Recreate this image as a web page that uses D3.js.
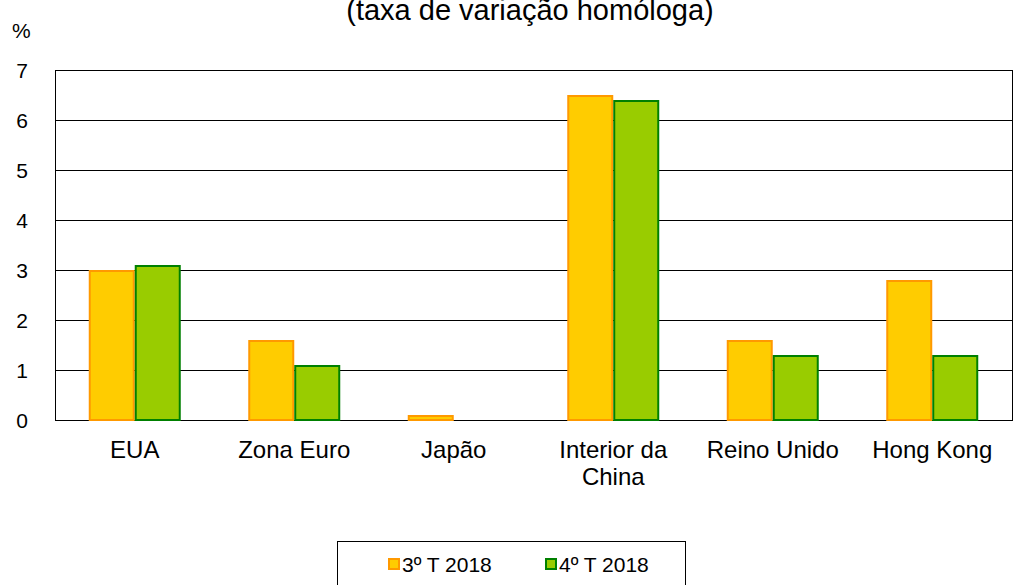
<!DOCTYPE html>
<html>
<head>
<meta charset="utf-8">
<script src="https://cdn.jsdelivr.net/npm/d3@7"></script>
<style>
  body { margin: 0; background: #fff; }
  text { font-family: "Liberation Sans", Arial, sans-serif; fill: #000; }
</style>
</head>
<body>
<svg id="canvas" width="1017" height="585"></svg>
<script>
// data
const categories = [["EUA"], ["Zona Euro"], ["Japão"], ["Interior da", "China"], ["Reino Unido"], ["Hong Kong"]];
const seriesNames = ["3º T 2018", "4º T 2018"];
const q3 = [3.0, 1.6, 0.1, 6.5, 1.6, 2.8];
const q4 = [3.1, 1.1, 0.0, 6.4, 1.3, 1.3];
const yTicks = [0, 1, 2, 3, 4, 5, 6, 7];

const fills = ["#ffcc00", "#99cc00"];
const strokes = ["#ff9900", "#008000"];

let svg = d3.select("#canvas");
let plotLeft = 55, plotRight = 1012, plotTop = 70, plotBottom = 420;

var x = d3.scaleBand()
    .domain(d3.range(categories.length))
    .range([plotLeft, plotRight]);

var y = d3.scaleLinear()
    .domain([0, 7])
    .range([plotBottom, plotTop]);

//title, its top is cut by the edge as in the original
svg.append("text")
    .attr("x", 530)
    .attr("y", 20)
    .attr("text-anchor", "middle")
    .style("font-size", "29px")
    .text("(taxa de variação homóloga)");

svg.append("text")
    .attr("x", 12)
    .attr("y", 38)
    .style("font-size", "21px")
    .text("%");

//gridlines
svg.append("g")
    .selectAll("line")
    .data(yTicks)
    .join("line")
    .attr("x1", plotLeft)
    .attr("x2", plotRight)
    .attr("y1", d => Math.round(y(d)) + 0.5)
    .attr("y2", d => Math.round(y(d)) + 0.5)
    .attr("stroke", "#000")
    .attr("stroke-width", 1);

//plot frame
svg.append("rect")
    .attr("x", plotLeft + 0.5)
    .attr("y", plotTop + 0.5)
    .attr("width", plotRight - plotLeft)
    .attr("height", plotBottom - plotTop)
    .attr("fill", "none")
    .attr("stroke", "#000");

//y tick labels
svg.append("g")
    .selectAll("text")
    .data(yTicks)
    .join("text")
    .attr("x", 28)
    .attr("y", d => y(d) + 8)
    .attr("text-anchor", "end")
    .style("font-size", "21px")
    .text(d => d);

//bars
const barW = 46;
const series = [q3, q4];
series.forEach((vals, s) => {
    svg.append("g")
        .selectAll("rect")
        .data(vals)
        .join("rect")
        .attr("x", (d, i) => x(i) + x.bandwidth() / 2 - barW + s * barW + 1)
        .attr("y", d => y(d) + 1)
        .attr("width", barW - 2)
        .attr("height", d => Math.max(0, y(0) - y(d) - 1))
        .attr("fill", fills[s])
        .attr("stroke", strokes[s])
        .attr("stroke-width", 2)
        .style("display", d => d > 0 ? null : "none");
});

//category labels
const labels = svg.append("g")
    .selectAll("text")
    .data(categories)
    .join("text")
    .attr("text-anchor", "middle")
    .style("font-size", "24px");
labels.each(function(lines, i) {
    d3.select(this).selectAll("tspan")
        .data(lines)
        .join("tspan")
        .attr("x", x(i) + x.bandwidth() / 2)
        .attr("y", (d, j) => 458 + j * 27)
        .text(d => d);
});

//legend
svg.append("rect")
    .attr("x", 337.5)
    .attr("y", 541.5)
    .attr("width", 348)
    .attr("height", 60)
    .attr("fill", "#fff")
    .attr("stroke", "#000");

const legend = svg.selectAll(".legend")
    .data(seriesNames)
    .enter().append("g")
    .attr("class", "legend")
    .attr("transform", (d, i) => "translate(" + (389 + i * 157) + ",0)");

legend.append("rect")
    .attr("x", 0)
    .attr("y", 559)
    .attr("width", 10)
    .attr("height", 10)
    .attr("fill", (d, i) => fills[i])
    .attr("stroke", (d, i) => strokes[i])
    .attr("stroke-width", 2);

legend.append("text")
    .attr("x", 13)
    .attr("y", 572)
    .style("font-size", "21px")
    .text(d => d);
</script>
</body>
</html>
